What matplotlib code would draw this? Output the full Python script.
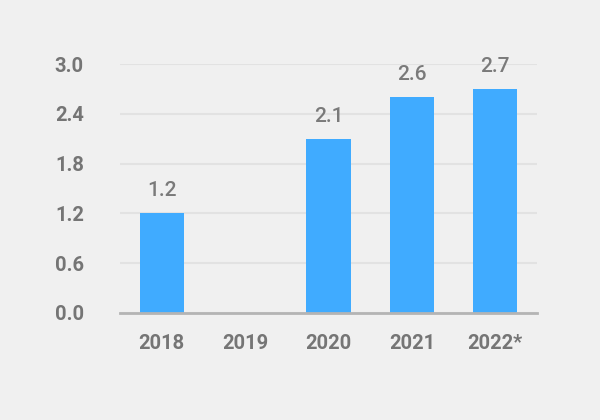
import matplotlib.pyplot as plt
import numpy as np

years = ['2018', '2019', '2020', '2021', '2022*']
values = [1.2, np.nan, 2.1, 2.6, 2.7]
yticks = [0.0, 0.6, 1.2, 1.8, 2.4, 3.0]

bg = '#f0f0f0'
txt = '#757575'
plt.rcParams['font.family'] = ['Roboto', 'DejaVu Sans']

fig = plt.figure(figsize=(6, 4.2), dpi=100, facecolor=bg)
ax = fig.add_axes([0.2, 0.2548, 0.695, 0.5928])
ax.set_facecolor(bg)

x = np.arange(len(years))
ax.bar(x, values, width=0.53, color='#40abff', zorder=3)
for xi, v in zip(x, values):
    if not np.isnan(v):
        ax.annotate(f'{v:.1f}', (xi, v), xytext=(0, 9.5), textcoords='offset points',
                    ha='center', va='bottom', fontsize=15, fontweight='medium',
                    color='#7a7a7a', annotation_clip=False)

ax.set_xlim(-0.5, len(years) - 0.5)
ax.set_ylim(0, 3.0)
ax.set_yticks(yticks)
ax.set_yticklabels([f'{t:.1f}' for t in yticks])
ax.set_xticks(x)
ax.set_xticklabels(years)
ax.tick_params(length=0, labelsize=14.5, labelcolor=txt)
ax.tick_params(axis='x', pad=15)
ax.tick_params(axis='y', pad=26)
for lab in ax.get_xticklabels() + ax.get_yticklabels():
    lab.set_fontweight('bold')

ax.grid(axis='y', color='#e2e2e2', linewidth=1.5, zorder=0)
for s in ['top', 'right', 'left']:
    ax.spines[s].set_visible(False)
ax.spines['bottom'].set_color('#b4b4b4')
ax.spines['bottom'].set_linewidth(2)
ax.spines['bottom'].set_zorder(4)

fig.savefig('out.png', dpi=100, facecolor=bg)
